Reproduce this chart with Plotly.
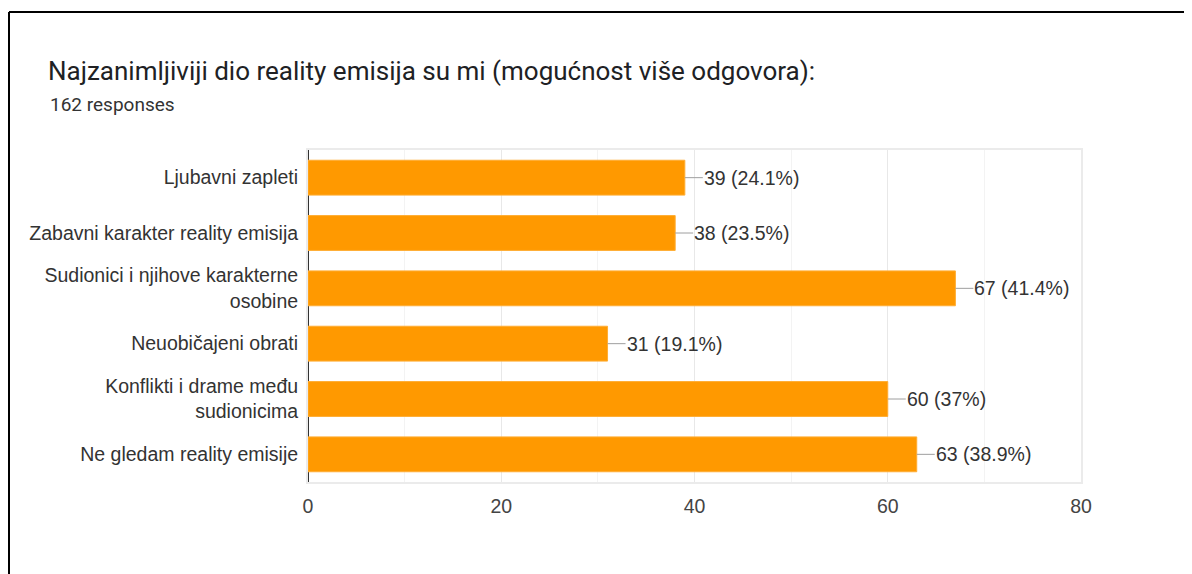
import plotly.graph_objects as go

categories = [
    "Ljubavni zapleti",
    "Zabavni karakter reality emisija",
    "Sudionici i njihove karakterne<br>osobine",
    "Neuobičajeni obrati",
    "Konflikti i drame među<br>sudionicima",
    "Ne gledam reality emisije",
]
counts = [39, 38, 67, 31, 60, 63]
percent_labels = ["24.1%", "23.5%", "41.4%", "19.1%", "37%", "38.9%"]
x_ticks = [0, 20, 40, 60, 80]

# page has an 8px body margin; work in figure pixel coords
OFF = 8
W, H = 1192 - OFF, 574 - OFF
L = 308 - OFF
R = W - (1081 - OFF)
T = 150 - OFF
B = H - (482 - OFF)
pw, ph = W - L - R, H - T - B

TFONT = "Roboto, Arial, sans-serif"
CFONT = "Arial, 'Liberation Sans', sans-serif"

fig = go.Figure(
    go.Bar(
        x=counts,
        y=categories,
        orientation="h",
        marker=dict(color="#ff9900", line=dict(color="#ffad33", width=1)),
        width=0.63,
        hoverinfo="skip",
    )
)

for c, v, p in zip(categories, counts, percent_labels):
    fig.add_annotation(
        x=v, y=c, xref="x", yref="y",
        text=f"{v} ({p})",
        showarrow=True, arrowhead=0, arrowwidth=1, arrowcolor="#9e9e9e",
        ax=18, ay=0, axref="pixel", ayref="pixel",
        xanchor="left", yanchor="middle",
        borderpad=0,
        font=dict(family=CFONT, size=19.5, color="#333333"),
    )

# subtitle
fig.add_annotation(
    xref="paper", yref="paper",
    x=(48 - OFF - L) / pw, y=1 + (T - (104 - OFF)) / ph,
    text="162 responses", showarrow=False,
    xanchor="left", yanchor="middle",
    font=dict(family=TFONT, size=19, color="#333333"),
)

# outer frame (top and left edges of the card)
top_y = 1 + (T - (12 - OFF)) / ph
left_x = (9 - OFF - L) / pw
fig.add_shape(type="line", xref="paper", yref="paper",
              x0=left_x, x1=(W + 5 - L) / pw,
              y0=top_y, y1=top_y,
              line=dict(color="#000000", width=2))
fig.add_shape(type="line", xref="paper", yref="paper",
              x0=left_x, x1=left_x,
              y0=top_y, y1=-(B + 5) / ph,
              line=dict(color="#000000", width=2))

fig.update_layout(
    width=W, height=H,
    margin=dict(l=L, r=R, t=T, b=B, pad=0),
    paper_bgcolor="white", plot_bgcolor="white",
    showlegend=False,
    title=dict(
        text="Najzanimljiviji dio reality emisija su mi (mogućnost više odgovora):",
        xref="container", yref="container",
        x=(48 - OFF) / W, y=1 - (71 - OFF) / H, xanchor="left", yanchor="middle",
        font=dict(family=TFONT, size=26, color="#202124"),
    ),
    xaxis=dict(
        range=[0, 80],
        tickvals=x_ticks,
        ticktext=[str(t) for t in x_ticks],
        showgrid=True, gridcolor="#e8e8e8", gridwidth=1,
        minor=dict(dtick=10, showgrid=True, gridcolor="#f3f3f3", gridwidth=1),
        zeroline=True, zerolinecolor="#333333", zerolinewidth=2,
        showline=True, linecolor="#ebebeb", linewidth=2, mirror=True,
        ticks="", ticklabelstandoff=6,
        tickfont=dict(family=CFONT, size=19.5, color="#444444"),
        fixedrange=True,
    ),
    yaxis=dict(
        categoryorder="array", categoryarray=categories,
        autorange="reversed",
        showgrid=False, zeroline=False,
        showline=True, linecolor="#ebebeb", linewidth=2, mirror=True,
        ticks="", ticklabelstandoff=4,
        tickfont=dict(family=CFONT, size=19.5, color="#333333"),
        fixedrange=True,
    ),
)

fig.write_html("out.html")
